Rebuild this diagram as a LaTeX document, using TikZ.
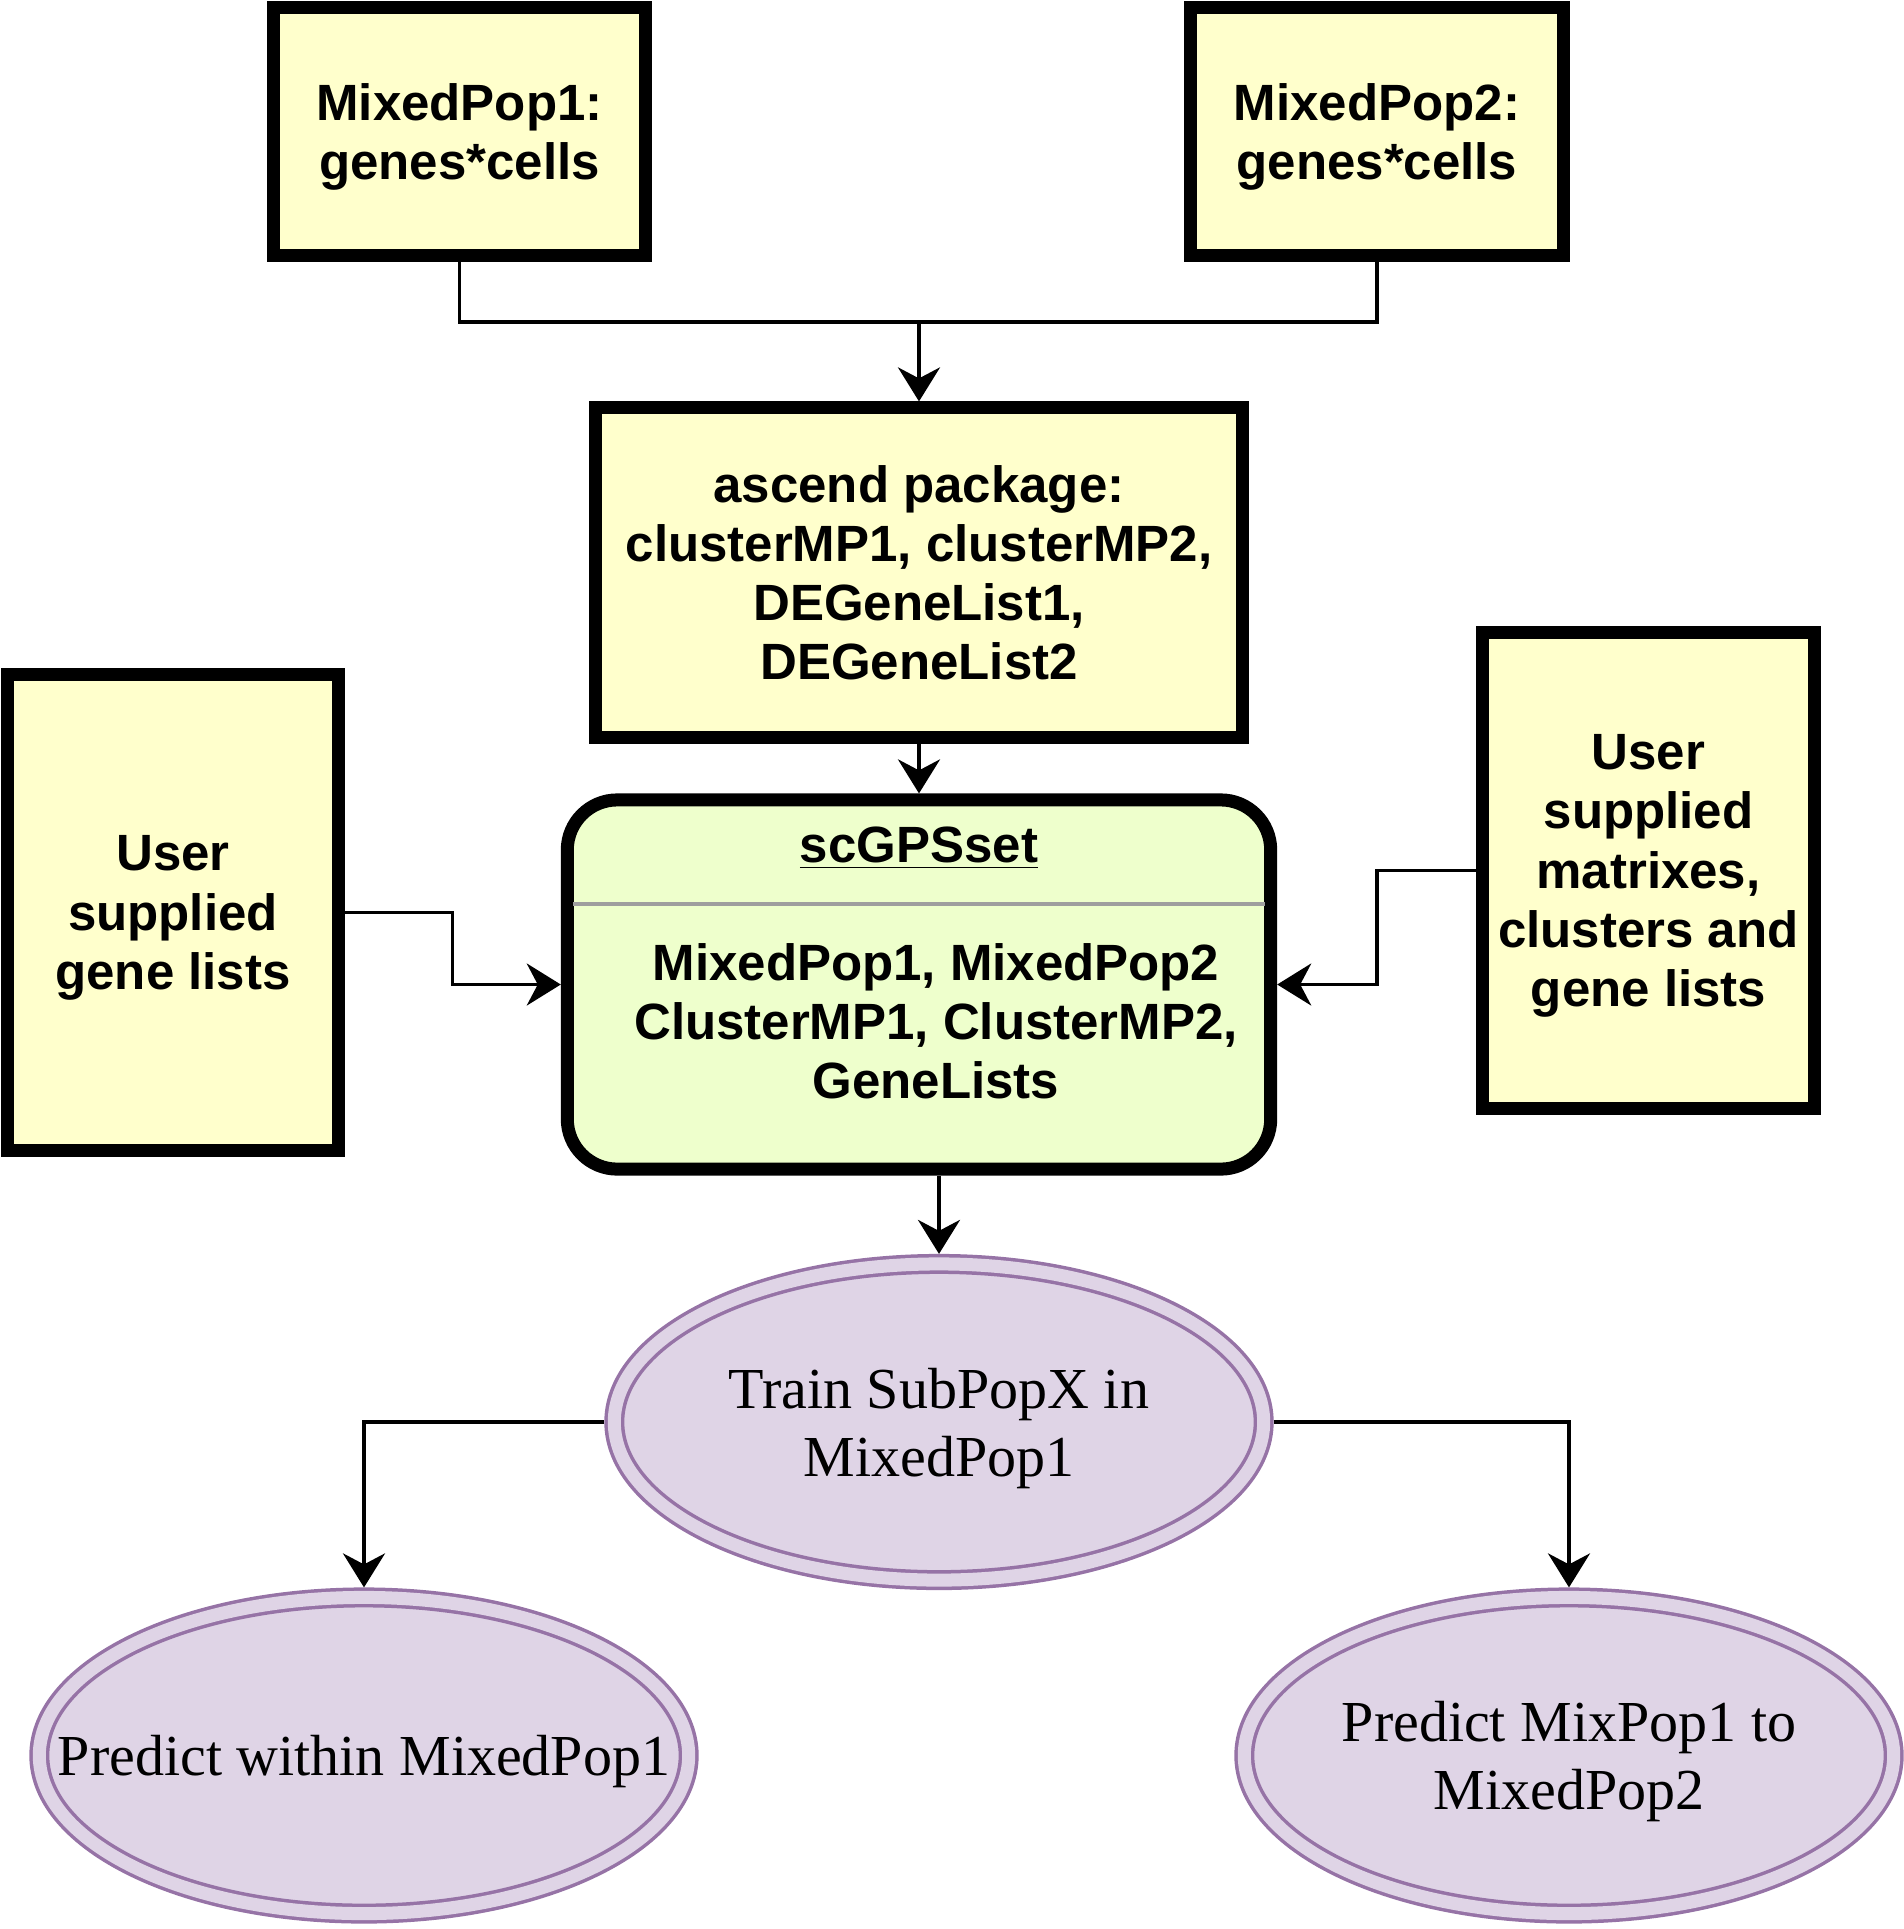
\documentclass[tikz,border=0pt]{standalone}
\usepackage{fontspec}
\setmainfont{Liberation Serif}
\setsansfont{Liberation Sans}
\usetikzlibrary{shapes.geometric, arrows.meta, calc}
\definecolor{boxfill}{HTML}{FFFFCC}
\definecolor{setfill}{HTML}{EEFFCC}
\definecolor{ovalfill}{HTML}{DFD4E6}
\definecolor{ovaldraw}{HTML}{9673A6}
\definecolor{divgray}{HTML}{9E9E9E}

\begin{document}
\begin{tikzpicture}[x=0.01cm, y=-0.01cm,
    boxtext/.style={align=center, text depth=0pt,
      font=\sffamily\bfseries\fontsize{14.5}{16.8}\selectfont},
    inputbox/.style={boxtext, draw=black, fill=boxfill, line width=0.13cm, inner sep=0pt},
    setbox/.style={draw=black, fill=setfill, line width=0.13cm, rounded corners=0.5cm,
      inner sep=0pt, minimum width=7.03cm, minimum height=3.69cm},
    divline/.style={divgray, line width=0.04cm, shorten <=0.12cm, shorten >=0.12cm},
    oval/.style={ellipse, draw=ovaldraw, line width=0.035cm, double=ovalfill,
      double distance=0.13cm, fill=ovalfill, minimum width=6.49cm, minimum height=3.16cm,
      inner xsep=-1.5cm, inner ysep=0pt, outer sep=0.1cm, align=center, text depth=0pt,
      font=\fontsize{16.5}{19.3}\selectfont},
    link/.style={black, line width=0.035cm},
    arrow/.style={link, -{Stealth[length=0.34cm, width=0.42cm, inset=0.11cm]}}]
  \useasboundingbox (0,0) rectangle (1904,1929);

  % inputs
  \node[inputbox, minimum width=3.71cm, minimum height=2.47cm] (mp1) at (459.5,131.5)
    {MixedPop1:\\genes*cells};
  \node[inputbox, minimum width=3.72cm, minimum height=2.47cm] (mp2) at (1377,131.5)
    {MixedPop2:\\genes*cells};
  \node[inputbox, minimum width=6.47cm, minimum height=3.29cm] (ascend) at (919,572.5)
    {ascend package:\\clusterMP1, clusterMP2,\\DEGeneList1,\\DEGeneList2};
  \node[inputbox, minimum width=3.30cm, minimum height=4.76cm] (genes) at (173,912.5)
    {User\\supplied\\gene lists};
  \node[inputbox, minimum width=3.31cm, minimum height=4.76cm] (mats) at (1648.5,870.5)
    {User\\supplied\\matrixes,\\clusters and\\gene lists};

  % scGPSset object
  \node[setbox] (scgps) at (919,984.5) {};
  \draw[divline] ([yshift=-1.11cm]scgps.north west) -- ([yshift=-1.11cm]scgps.north east);
  \node[boxtext] (settitle) at ([yshift=-0.51cm]scgps.north) {\underline{scGPSset}};
  \node[boxtext] (setbody) at ([xshift=0.17cm, yshift=-0.365cm]scgps.center)
    {MixedPop1, MixedPop2\\ClusterMP1, ClusterMP2,\\GeneLists};

  % training and prediction
  \node[oval] (train) at (939,1422) {Train SubPopX in\\MixedPop1};
  \node[oval] (within) at (364,1755.5) {Predict within MixedPop1};
  \node[oval] (mixto) at (1569,1755.5) {Predict MixPop1 to\\MixedPop2};

  % connectors
  \coordinate (join) at (919,322);
  \draw[link] (mp1.south) |- (join) -| (mp2.south);
  \draw[arrow] (join) -- (ascend.north);
  \draw[arrow] (ascend.south) -- (scgps.north);
  \draw[arrow] (genes.east) -| ($(genes.east)!0.5!(scgps.west)$) |- (scgps.west);
  \draw[arrow] (mats.west) -| ($(mats.west)!0.5!(scgps.east)$) |- (scgps.east);
  \draw[arrow] (scgps.south -| train.north) -- (train.north);
  \draw[arrow] (train.west) -| (within.north);
  \draw[arrow] (train.east) -| (mixto.north);
\end{tikzpicture}
\end{document}
